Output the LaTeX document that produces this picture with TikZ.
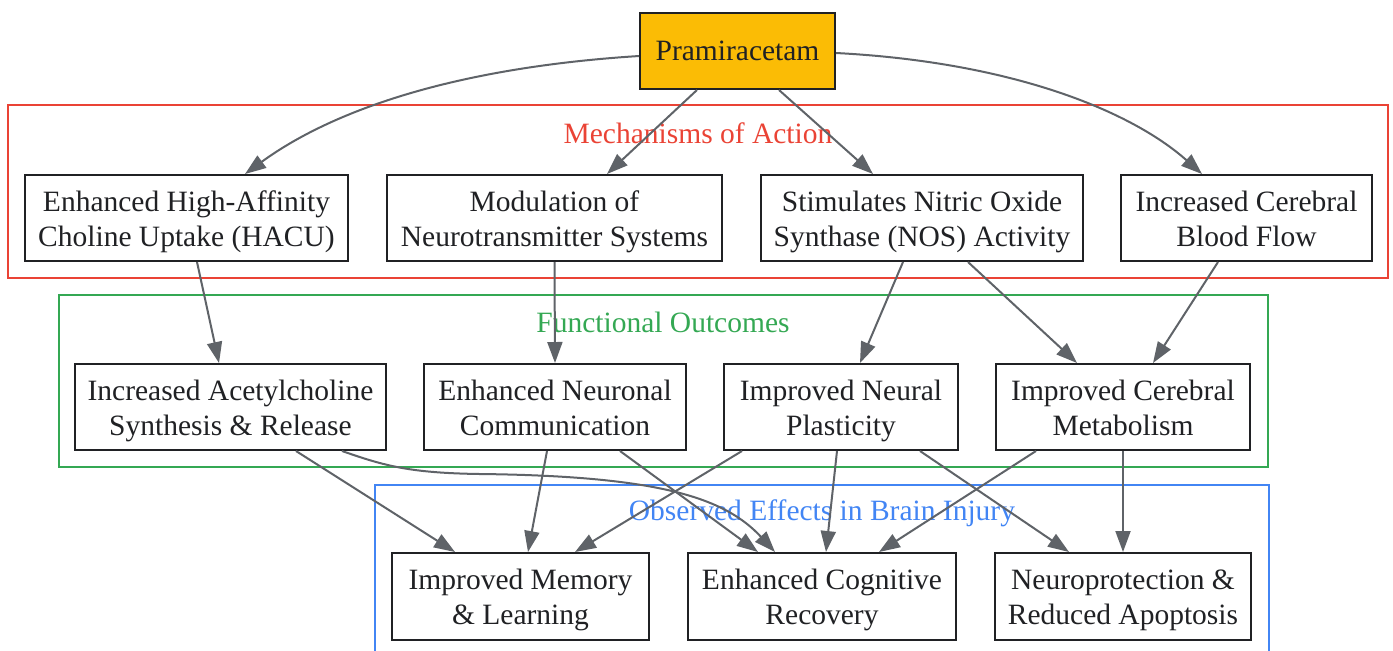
\documentclass[tikz,border=0pt]{standalone}
\usepackage{fontspec}
\setmainfont{Liberation Serif}
\usetikzlibrary{arrows.meta}
\definecolor{gold}{HTML}{FBBC05}
\definecolor{gred}{HTML}{EA4335}
\definecolor{ggreen}{HTML}{34A853}
\definecolor{gblue}{HTML}{4285F4}
\definecolor{edgegray}{HTML}{5F6368}
\definecolor{nodeborder}{HTML}{202124}
\begin{document}
\begin{tikzpicture}[x=0.5pt,y=-0.5pt,
  every node/.style={font=\fontsize{14.75}{17.5}\selectfont},
  box/.style={draw=nodeborder,line width=1pt,fill=white,align=center,inner sep=0pt,text=nodeborder},
  rowbox/.style={box,minimum height=43pt,text height=29pt,text depth=1pt},
  cluster/.style={line width=1pt},
  conn/.style={draw=edgegray,line width=1pt,-{Triangle[length=10.5pt,width=7.5pt]}}
]
\useasboundingbox (0,0) rectangle (1393,650);
\clip (0,0) rectangle (1393,650);
% clusters
\draw[cluster,draw=gred] (8,105) rectangle (1388,278);
\node[text=gred] (lmech) at (698,133) {Mechanisms of Action};
\draw[cluster,draw=ggreen] (59,295) rectangle (1268,467);
\node[text=ggreen] (lfunc) at (663,322) {Functional Outcomes};
\draw[cluster,draw=gblue] (375,485) rectangle (1269,670);
\node[text=gblue] (lobs) at (822,513) {Observed Effects in Brain Injury};
% nodes
\node[box,fill=gold,minimum width=97.5pt,minimum height=38pt] (pram) at (737.5,51) {Pramiracetam};
\node[rowbox,minimum width=161.5pt] (hacu) at (186.5,218) {Enhanced High-Affinity\\Choline Uptake (HACU)};
\node[rowbox,minimum width=167.5pt] (mod) at (554.5,218) {Modulation of\\Neurotransmitter Systems};
\node[rowbox,minimum width=161pt] (nos) at (922,218) {Stimulates Nitric Oxide\\Synthase (NOS) Activity};
\node[rowbox,minimum width=125.5pt] (blood) at (1246.5,218) {Increased Cerebral\\Blood Flow};
\node[rowbox,minimum width=155.5pt] (acet) at (230.5,407) {Increased Acetylcholine\\Synthesis \& Release};
\node[rowbox,minimum width=131pt] (neur) at (555,407) {Enhanced Neuronal\\Communication};
\node[rowbox,minimum width=117pt] (plast) at (841,407) {Improved Neural\\Plasticity};
\node[rowbox,minimum width=127pt] (metab) at (1123,407) {Improved Cerebral\\Metabolism};
\node[rowbox,minimum width=128.5pt,minimum height=43.5pt] (mem) at (520.5,596.5) {Improved Memory\\\& Learning};
\node[rowbox,minimum width=134pt,minimum height=43.5pt] (cog) at (822,596.5) {Enhanced Cognitive\\Recovery};
\node[rowbox,minimum width=128pt,minimum height=43.5pt] (neuro) at (1123,596.5) {Neuroprotection \&\\Reduced Apoptosis};
% edges
\draw[conn] ([yshift=-2.5pt]pram.west) .. controls (450,68) and (330,112) .. ([xshift=29.25pt]hacu.north);
\draw[conn] ([xshift=-20.25pt]pram.south) -- ([xshift=26.25pt]mod.north);
\draw[conn] ([xshift=20.75pt]pram.south) -- ([xshift=-24.5pt]nos.north);
\draw[conn] ([yshift=-1pt]pram.east) .. controls (1010,62) and (1130,110) .. ([xshift=-22.25pt]blood.north);
\draw[conn] ([xshift=5.25pt]hacu.south) -- ([xshift=-5.75pt]acet.north);
\draw[conn] (mod.south) -- (neur.north);
\draw[conn] ([xshift=-9.5pt]nos.south) -- ([xshift=9.5pt]plast.north);
\draw[conn] ([xshift=23pt]nos.south) -- ([xshift=-23pt]metab.north);
\draw[conn] ([xshift=-14.25pt]blood.south) -- ([xshift=15pt]metab.north);
\draw[conn] ([xshift=32.75pt]acet.south) -- ([xshift=-32.75pt]mem.north);
\coordinate (bend) at (480,474);
\draw[conn] ([xshift=55.75pt]acet.south) .. controls (385,466) and (410,473) .. (bend) .. controls (660,476) and (725,498) .. ([xshift=-23.5pt]cog.north);
\draw[conn] ([xshift=-4pt]neur.south) -- ([xshift=3.75pt]mem.north);
\draw[conn] ([xshift=32.5pt]neur.south) -- ([xshift=-32pt]cog.north);
\draw[conn] ([xshift=-49.5pt]plast.south) -- ([xshift=27.25pt]mem.north);
\draw[conn] ([xshift=-2pt]plast.south) -- ([xshift=2pt]cog.north);
\draw[conn] ([xshift=39.5pt]plast.south) -- ([xshift=-27pt]neuro.north);
\draw[conn] ([xshift=-43.5pt]metab.south) -- ([xshift=28.5pt]cog.north);
\draw[conn] (metab.south) -- (neuro.north);
\end{tikzpicture}
\end{document}
